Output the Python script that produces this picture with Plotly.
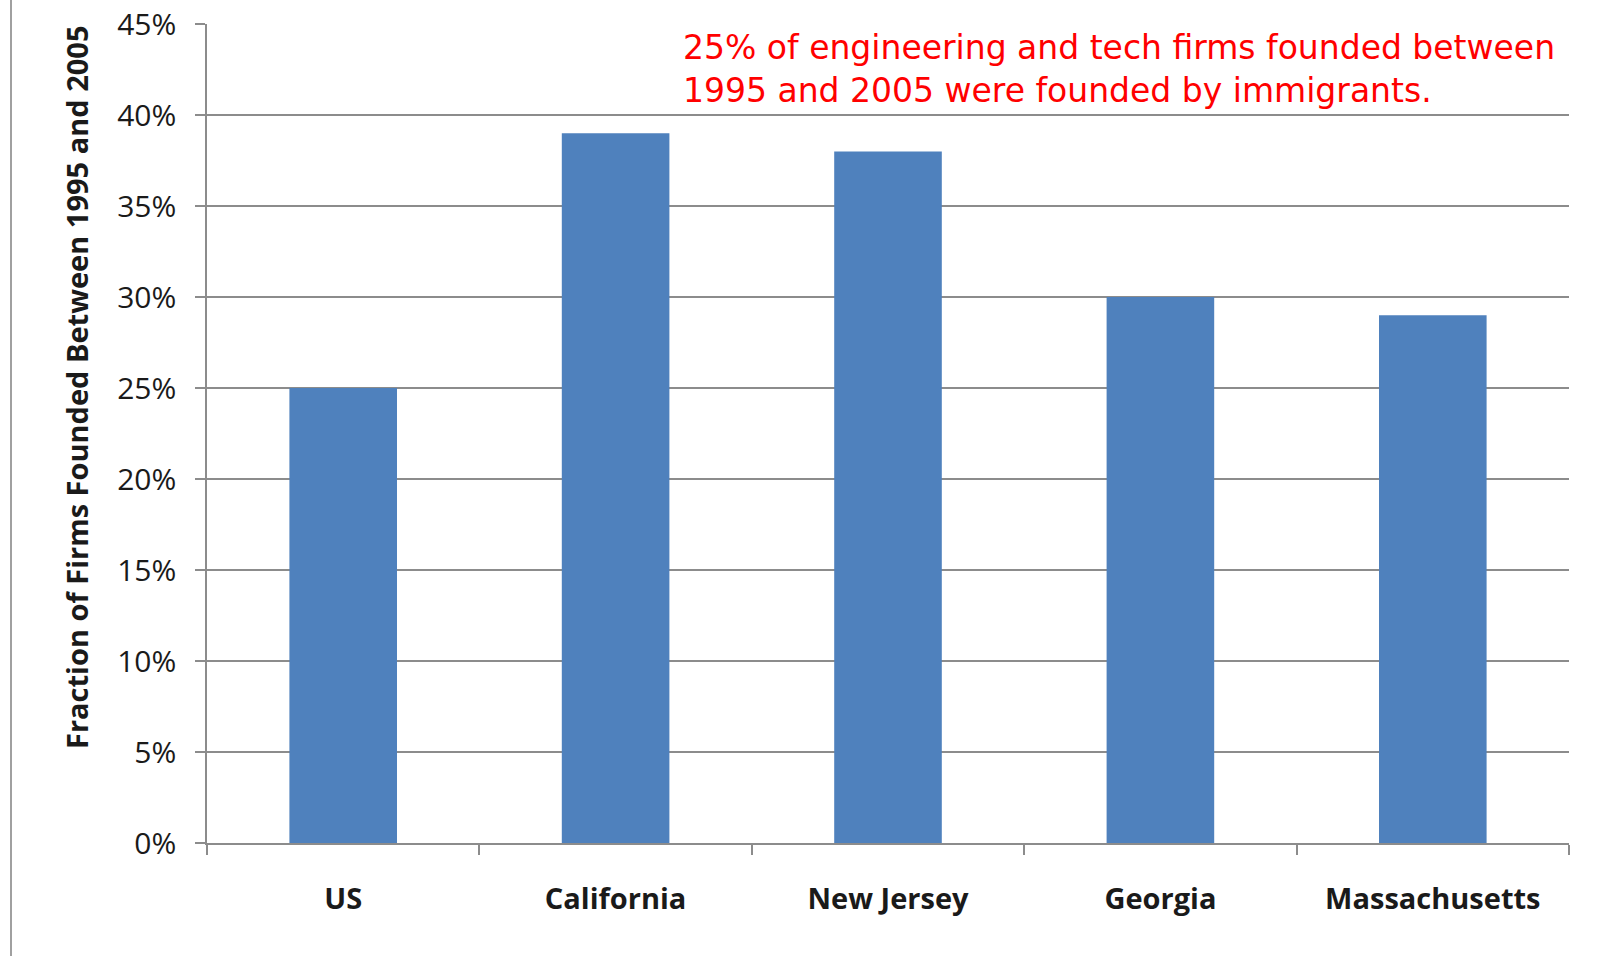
import plotly.graph_objects as go

# Share of engineering/tech firms founded 1995-2005 with an immigrant founder
regions = ["US", "California", "New Jersey", "Georgia", "Massachusetts"]
shares = [0.25, 0.39, 0.38, 0.30, 0.29]
y_ticks = [0, 0.05, 0.10, 0.15, 0.20, 0.25, 0.30, 0.35, 0.40, 0.45]
y_tick_labels = ["0%", "5%", "10%", "15%", "20%", "25%", "30%", "35%", "40%", "45%"]

W, H = 1602, 956
L, R, T, B = 207, 33, 24, 113
plot_w = W - L - R
plot_h = H - T - B

fig = go.Figure(
    go.Bar(
        x=regions,
        y=shares,
        marker=dict(color="#4F81BD", line=dict(width=0)),
        hoverinfo="x+y",
    )
)

grid = "#8c8c8c"
fig.update_layout(
    width=W,
    height=H,
    margin=dict(l=L, r=R, t=T, b=B, autoexpand=False),
    paper_bgcolor="white",
    plot_bgcolor="white",
    bargap=0.605,
    showlegend=False,
    xaxis=dict(
        type="category",
        automargin=False,
        showline=True,
        linecolor=grid,
        linewidth=1.5,
        ticks="outside",
        tickson="boundaries",
        ticklen=10,
        tickcolor=grid,
        tickwidth=1.5,
        showgrid=False,
        tickfont=dict(family="Open Sans", size=29, color="#1a1a1a", weight="bold"),
        ticklabelstandoff=29,
    ),
    yaxis=dict(
        range=[0, 0.45],
        automargin=False,
        tickvals=y_ticks,
        ticktext=y_tick_labels,
        showline=True,
        linecolor=grid,
        linewidth=1.5,
        ticks="outside",
        ticklen=10,
        tickcolor=grid,
        tickwidth=1.5,
        showgrid=True,
        gridcolor=grid,
        gridwidth=1.5,
        zeroline=False,
        tickfont=dict(family="Open Sans", size=30, color="#1a1a1a"),
        ticklabelstandoff=13,
    ),
    annotations=[
        dict(
            text="Fraction of Firms Founded Between 1995 and 2005",
            textangle=-90,
            xref="paper",
            yref="paper",
            x=(76 - L) / plot_w,
            y=(H - B - 388) / plot_h,
            xanchor="center",
            yanchor="middle",
            showarrow=False,
            font=dict(family="Open Sans", size=29, color="#1a1a1a", weight="bold"),
        ),
        dict(
            text="25% of engineering and tech firms founded between<br>1995 and 2005 were founded by immigrants.",
            xref="paper",
            yref="paper",
            x=(681 - L) / plot_w,
            y=(H - B - 26) / plot_h,
            xanchor="left",
            yanchor="top",
            align="left",
            showarrow=False,
            bgcolor="white",
            font=dict(family="DejaVu Sans", size=33, color="#ff0000"),
        ),
    ],
    shapes=[
        dict(
            type="line",
            xref="paper",
            yref="paper",
            x0=(11 - L) / plot_w,
            x1=(11 - L) / plot_w,
            y0=-B / plot_h,
            y1=(plot_h + T) / plot_h,
            line=dict(color="#a0a0a0", width=2),
        )
    ],
)

fig.write_html("out.html")
